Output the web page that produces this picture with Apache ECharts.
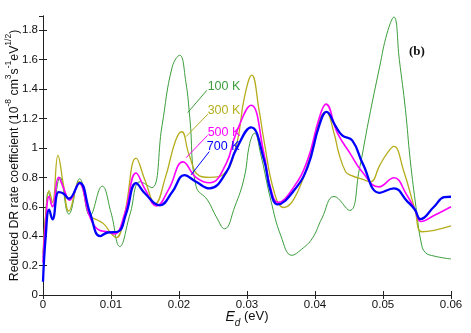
<!DOCTYPE html>
<html>
<head>
<meta charset="utf-8">
<script src="https://cdn.jsdelivr.net/npm/echarts@6/dist/echarts.min.js"></script>
<style>html,body{margin:0;padding:0;background:#fff;}#c{width:471px;height:333px;}</style>
</head>
<body>
<div id="c"></div>
<script>
// ---- data (energy in eV, reduced DR rate coefficient) ----
const xTicks = [0, 0.01, 0.02, 0.03, 0.04, 0.05, 0.06];
const yTicks = [0, 0.2, 0.4, 0.6, 0.8, 1, 1.2, 1.4, 1.6, 1.8];

const x100 = [0,0.0004,0.0008,0.0014,0.0025,0.0038,0.0054,0.0069,0.0087,0.0100,0.0113,0.0128,0.0143,0.0160,0.0175,0.0190,0.0201,0.0210,0.0216,0.0225,0.0242,0.0255,0.0267,0.0282,0.0296,0.0304,0.0311,0.0320,0.0335,0.0350,0.0366,0.0380,0.0396,0.0410,0.0428,0.0451,0.0465,0.0479,0.0495,0.0506,0.0516,0.0524,0.0533,0.0540,0.0549,0.0556,0.0562,0.0575,0.0600];
const y100 = [0.25,0.55,0.70,0.60,0.80,0.55,0.79,0.54,0.74,0.56,0.33,0.55,0.77,0.73,1.15,1.55,1.63,1.45,1.20,0.74,0.645,0.53,0.45,0.60,0.80,1.03,1.10,0.96,0.645,0.40,0.27,0.31,0.385,0.52,0.67,0.575,0.85,1.19,1.55,1.78,1.89,1.60,1.26,0.92,0.58,0.36,0.29,0.265,0.245];

const x300 = [0,0.0004,0.0009,0.0014,0.0022,0.0030,0.0038,0.0053,0.0069,0.0080,0.0090,0.0100,0.0108,0.0120,0.0137,0.0150,0.0165,0.0180,0.0195,0.0204,0.0215,0.0230,0.0245,0.0265,0.0284,0.0296,0.0307,0.0318,0.0325,0.0340,0.0354,0.0370,0.0390,0.0406,0.0416,0.0428,0.0435,0.0445,0.0452,0.0474,0.0482,0.0495,0.0506,0.0516,0.0530,0.0547,0.0557,0.0575,0.0600];
const y300 = [0.28,0.55,0.71,0.63,0.95,0.75,0.57,0.77,0.54,0.51,0.48,0.42,0.39,0.55,0.93,0.78,0.62,0.80,1.05,1.11,0.95,0.81,0.80,0.82,1.01,1.34,1.495,1.25,1.05,0.70,0.595,0.66,0.90,1.18,1.245,1.10,0.964,0.838,0.815,0.78,0.77,0.88,0.963,1.01,0.85,0.58,0.43,0.44,0.47];

const x500 = [0,0.0004,0.0009,0.0014,0.0023,0.0030,0.0039,0.0053,0.0069,0.0083,0.0095,0.0105,0.0120,0.0137,0.0150,0.0167,0.0185,0.0206,0.0225,0.0245,0.0269,0.0284,0.0306,0.0325,0.0334,0.0346,0.0369,0.0389,0.0406,0.0416,0.0433,0.0452,0.0469,0.0494,0.0516,0.0535,0.0547,0.0556,0.0575,0.0600];
const y500 = [0.22,0.50,0.67,0.60,0.80,0.73,0.645,0.76,0.53,0.44,0.43,0.415,0.55,0.83,0.72,0.605,0.72,0.905,0.80,0.763,0.89,1.10,1.29,0.96,0.74,0.63,0.735,0.917,1.20,1.298,1.10,0.96,0.84,0.735,0.797,0.68,0.58,0.50,0.54,0.60];

const x700 = [0,0.0004,0.0009,0.0014,0.0023,0.0030,0.0038,0.0054,0.0069,0.0084,0.0095,0.0110,0.0122,0.0137,0.0150,0.0172,0.0190,0.0208,0.0225,0.0245,0.0269,0.0284,0.0306,0.0325,0.0334,0.0345,0.0369,0.0389,0.0406,0.0417,0.0430,0.0440,0.0455,0.0470,0.0495,0.0516,0.0535,0.0547,0.0555,0.0575,0.0590,0.0600];
const y700 = [0.09,0.40,0.58,0.515,0.70,0.69,0.655,0.763,0.56,0.40,0.425,0.43,0.55,0.76,0.69,0.61,0.70,0.815,0.77,0.725,0.83,0.99,1.14,0.92,0.72,0.616,0.71,0.87,1.15,1.245,1.15,1.085,1.05,0.895,0.695,0.725,0.64,0.58,0.516,0.60,0.665,0.668];

const seriesNames = ['100 K', '300 K', '500 K', '700 K'];
const seriesColors = ['#3c9e3c', '#b5ad1c', '#ff00ff', '#0000ff'];
const seriesWidths = [1, 1.3, 1.6, 2.3];
// label anchor and leader line (data coords)
const labelPos = [[0.02421, 1.415], [0.02421, 1.252], [0.02421, 1.105], [0.02409, 1.007]];
const leaderFrom = [[0.02410, 1.392], [0.02425, 1.230], [0.02420, 1.085], [0.02445, 0.975]];
const leaderTo = [[0.02128, 1.240], [0.02104, 1.077], [0.02104, 0.933], [0.02178, 0.817]];

const xsAll = [x100, x300, x500, x700];
const ysAll = [y100, y300, y500, y700];

const FONT = '"Liberation Sans", Arial, Helvetica, sans-serif';
const chart = echarts.init(document.getElementById('c'), null, {renderer: 'canvas'});

const series = seriesNames.map((name, k) => ({
  name: name,
  type: 'line',
  xAxisIndex: 0, yAxisIndex: 0,
  data: xsAll[k].map((x, i) => [x, ysAll[k][i]]),
  smooth: 0.45,
  symbol: 'none',
  lineStyle: {color: seriesColors[k], width: seriesWidths[k]},
  itemStyle: {color: seriesColors[k]},
  z: 2 + k,
  markPoint: {
    symbol: 'circle', symbolSize: 0, silent: true,
    data: [{coord: labelPos[k], value: name}],
    label: {show: true, position: 'right', distance: 0, formatter: name,
      color: seriesColors[k], fontFamily: FONT, fontSize: 12.5}
  },
  markLine: {
    silent: true, symbol: ['none', 'arrow'], symbolSize: [0, 5],
    lineStyle: {color: seriesColors[k], width: 1, type: 'solid'},
    label: {show: false},
    data: [[{coord: leaderFrom[k]}, {coord: leaderTo[k]}]]
  }
}));

const tickStyle = {inside: true, length: 4, lineStyle: {color: '#222', width: 1}};
const lineAx = {show: true, lineStyle: {color: '#222', width: 1}};
const labStyle = {color: '#111', fontFamily: FONT, fontSize: 11.5};

chart.setOption({
  animation: false,
  backgroundColor: '#fff',
  grid: {left: 43, right: 20, top: 16, bottom: 38, containLabel: false, outerBoundsMode: 'none'},
  xAxis: [{
    type: 'value', min: 0, max: 0.06, interval: 0.01, position: 'bottom',
    axisLine: lineAx, axisTick: tickStyle, splitLine: {show: false},
    axisLabel: Object.assign({margin: 4, formatter: v => String(+v.toFixed(2))}, labStyle),
    name: '{i|E}{d|d}{n| (eV)}', nameLocation: 'middle', nameGap: 15, nameMoveOverlap: false,
    nameTextStyle: {rich: {
      i: {fontFamily: FONT, fontSize: 14, fontStyle: 'italic', color: '#111', verticalAlign: 'top', lineHeight: 18},
      d: {fontFamily: FONT, fontSize: 10, fontStyle: 'italic', color: '#111', verticalAlign: 'bottom', lineHeight: 18},
      n: {fontFamily: FONT, fontSize: 13, color: '#111', verticalAlign: 'top', lineHeight: 18}
    }}
  }, {
    type: 'value', min: 0, max: 0.06, interval: 0.01, position: 'top',
    axisLine: lineAx, axisTick: tickStyle, splitLine: {show: false}, axisLabel: {show: false}
  }],
  yAxis: [{
    type: 'value', min: 0, max: 1.897, interval: 0.2, position: 'left',
    axisLine: lineAx, axisTick: tickStyle, splitLine: {show: false},
    axisLabel: Object.assign({margin: 5, showMaxLabel: false, formatter: v => String(+v.toFixed(1))}, labStyle),
    name: '{n|Reduced DR rate coefficient (10}{s|-8}{n| cm}{s|3}{n|s}{s|-1}{n|eV}{s|1/2}{n|)}',
    nameLocation: 'middle', nameGap: 22, nameRotate: 90, nameMoveOverlap: false,
    nameTextStyle: {rich: {
      n: {fontFamily: FONT, fontSize: 12.3, color: '#111', verticalAlign: 'bottom', lineHeight: 17},
      s: {fontFamily: FONT, fontSize: 8.5, color: '#111', verticalAlign: 'top', lineHeight: 17}
    }}
  }, {
    type: 'value', min: 0, max: 1.897, interval: 0.2, position: 'right',
    axisLine: lineAx, axisTick: tickStyle, splitLine: {show: false}, axisLabel: {show: false}
  }],
  graphic: [{
    type: 'text', left: 409, top: 45, silent: true,
    style: {text: '(b)', fill: '#111', font: 'bold 13px "Liberation Serif", "Times New Roman", serif'}
  }],
  series: series
});
</script>
</body>
</html>
